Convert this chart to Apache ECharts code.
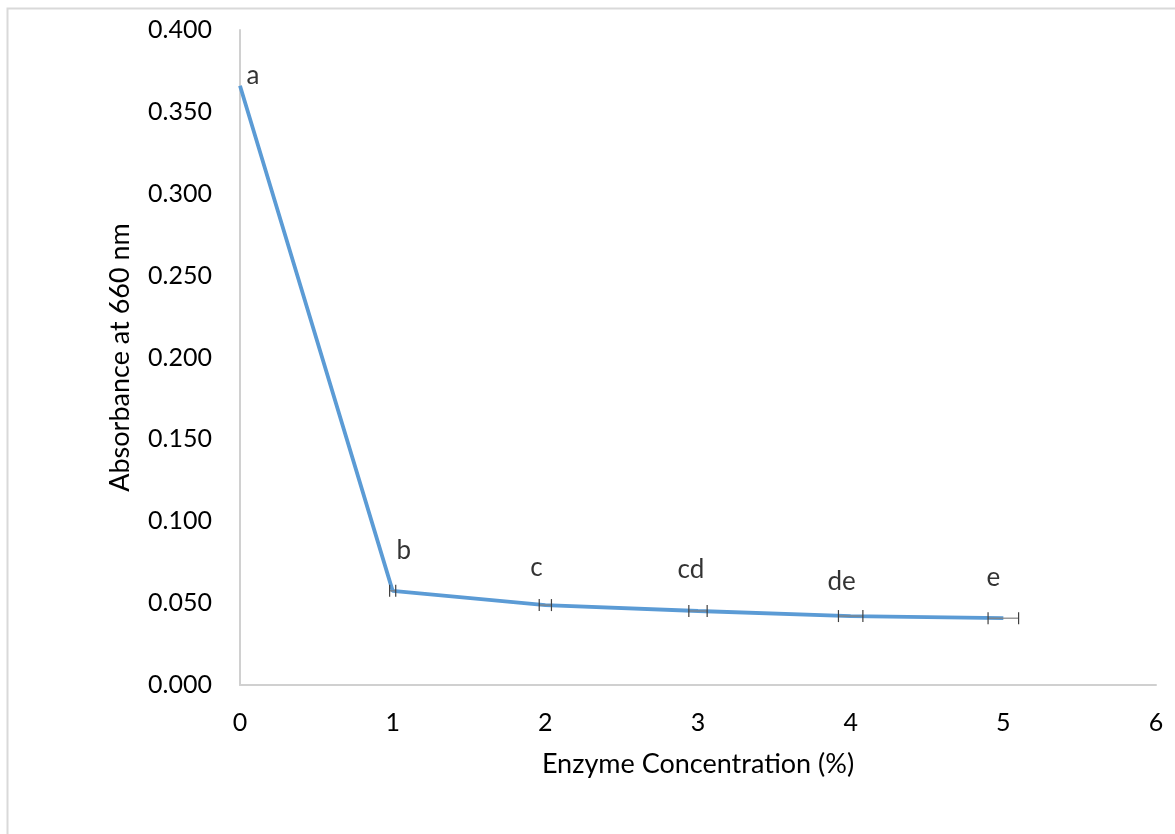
<!DOCTYPE html>
<html>
<head>
<meta charset="utf-8">
<script src="https://cdn.jsdelivr.net/npm/echarts@6/dist/echarts.min.js"></script>
<style>
  html, body { margin: 0; padding: 0; background: #ffffff; }
  #chart { width: 1175px; height: 834px; }
</style>
</head>
<body>
<div id="chart"></div>
<script>
// Enzyme concentration (%) vs absorbance at 660 nm
const concentrations = [0, 1, 2, 3, 4, 5];
const absorbance = [0.366, 0.0575, 0.0488, 0.0452, 0.0421, 0.0408];
const xErrors = [0, 0.02, 0.04, 0.06, 0.08, 0.1];
const groupLetters = ['a', 'b', 'c', 'cd', 'de', 'e'];
const xTicks = [0, 1, 2, 3, 4, 5, 6];
const yTicks = [0, 0.05, 0.1, 0.15, 0.2, 0.25, 0.3, 0.35, 0.4];

// label placement (pixel offsets from each point)
const letterOffsets = [[13, -10], [11, -40], [-9, -37], [-7, -41], [-9, -34], [-10, -41]];

const FONT = 'Lato';
const chart = echarts.init(document.getElementById('chart'), null, { renderer: 'canvas' });

const points = concentrations.map((x, i) => [x, absorbance[i]]);
const errData = concentrations.map((x, i) => [x, absorbance[i], xErrors[i]]);

chart.setOption({
  animation: false,
  backgroundColor: '#ffffff',
  graphic: [{
    type: 'rect',
    shape: { x: 7.5, y: 8.5, width: 1200, height: 900 },
    style: { fill: 'none', stroke: '#d9d9d9', lineWidth: 2 },
    silent: true
  }],
  grid: { left: 240, right: 19, top: 30, bottom: 149, containLabel: false },
  xAxis: {
    type: 'value',
    min: xTicks[0],
    max: xTicks[xTicks.length - 1],
    interval: 1,
    name: 'Enzyme Concentration (%)',
    nameLocation: 'middle',
    nameGap: 66,
    nameTextStyle: { fontFamily: FONT, fontSize: 27, color: '#000000' },
    axisLine: { show: true, onZero: false, lineStyle: { color: '#d0d0d0', width: 2 } },
    axisTick: { show: false },
    splitLine: { show: false },
    axisLabel: { fontFamily: FONT, fontSize: 25, color: '#000000', margin: 25 }
  },
  yAxis: {
    type: 'value',
    min: yTicks[0],
    max: yTicks[yTicks.length - 1],
    interval: 0.05,
    name: 'Absorbance at 660 nm',
    nameLocation: 'middle',
    nameGap: 106,
    nameTextStyle: { fontFamily: FONT, fontSize: 27, color: '#000000' },
    axisLine: { show: true, onZero: false, lineStyle: { color: '#d0d0d0', width: 2 } },
    axisTick: { show: false },
    splitLine: { show: false },
    axisLabel: {
      fontFamily: FONT, fontSize: 25, color: '#000000', margin: 28,
      formatter: v => v.toFixed(3)
    }
  },
  series: [
    {
      type: 'line',
      data: points,
      symbol: 'none',
      lineStyle: { color: '#5b9bd5', width: 3.8 },
      z: 2
    },
    {
      // horizontal error bars with end caps
      type: 'custom',
      data: errData,
      z: 3,
      renderItem: function (params, api) {
        const x = api.value(0), y = api.value(1), e = api.value(2);
        if (!e) return;
        const lo = api.coord([x - e, y]);
        const hi = api.coord([x + e, y]);
        const cap = 6;
        const style = { stroke: '#404040', lineWidth: 1.2 };
        return {
          type: 'group',
          children: [
            { type: 'line', shape: { x1: lo[0], y1: lo[1], x2: hi[0], y2: hi[1] }, style: { stroke: '#808080', lineWidth: 1.2 } },
            { type: 'line', shape: { x1: lo[0], y1: lo[1] - cap, x2: lo[0], y2: lo[1] + cap }, style: style },
            { type: 'line', shape: { x1: hi[0], y1: hi[1] - cap, x2: hi[0], y2: hi[1] + cap }, style: style }
          ]
        };
      }
    },
    {
      // significance letters
      type: 'scatter',
      data: points.map((p, i) => ({
        value: p,
        label: {
          show: true, formatter: groupLetters[i], position: 'inside', offset: letterOffsets[i],
          color: '#000000', fontFamily: FONT, fontSize: 26
        }
      })),
      symbolSize: 1,
      itemStyle: { color: 'rgba(0,0,0,0)' },
      emphasis: { disabled: true },
      z: 4
    }
  ]
});
</script>
</body>
</html>
